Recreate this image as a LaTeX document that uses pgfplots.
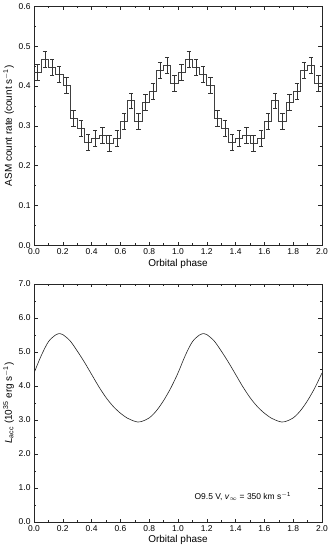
\documentclass[border=0pt]{standalone}
\usepackage{fontspec}
\setmainfont{Liberation Sans}
\usepackage{pgfplots}
\pgfplotsset{compat=1.18}
\begin{document}
\begin{tikzpicture}
\pgfplotsset{
  myaxis/.style={
    scale only axis,
    width=289pt,
    xmin=0, xmax=2,
    xtick={0,0.2,...,2.01},
    minor x tick num=1,
    tick align=inside,
    major tick length=3.5pt,
    minor tick length=2pt,
    axis line style={black!85, line width=0.5pt},
    tick style={black!85, line width=0.5pt},
    /pgf/number format/assume math mode=true,
    /pgf/number format/.cd, fixed, fixed zerofill, precision=1,
    /pgfplots/.cd,
    tick label style={font=\fontsize{8.5}{10}\selectfont},
    label style={font=\fontsize{10}{12}\selectfont},
    xlabel={Orbital phase},
    xlabel style={yshift=3pt},
    ylabel style={yshift=-2pt},
  }
}
\begin{axis}[myaxis,
  at={(0,0)}, anchor=south west,
  height=240pt,
  ymin=0, ymax=0.6,
  ytick={0,0.1,...,0.61},
  minor y tick num=1,
  ylabel={ASM count rate (count s\textsuperscript{$-$1})},
]
\addplot[const plot, black!75, line width=0.6pt] coordinates {
(0.00,0.434)(0.05,0.466)(0.10,0.447)(0.15,0.430)(0.20,0.403)
(0.25,0.320)(0.30,0.293)(0.35,0.260)(0.40,0.270)(0.45,0.277)
(0.50,0.257)(0.55,0.270)(0.60,0.312)(0.65,0.363)(0.70,0.312)
(0.75,0.360)(0.80,0.388)(0.85,0.440)(0.90,0.452)(0.95,0.407)
(1.00,0.434)(1.05,0.466)(1.10,0.447)(1.15,0.430)(1.20,0.403)
(1.25,0.320)(1.30,0.293)(1.35,0.260)(1.40,0.270)(1.45,0.277)
(1.50,0.257)(1.55,0.270)(1.60,0.312)(1.65,0.363)(1.70,0.312)
(1.75,0.360)(1.80,0.388)(1.85,0.440)(1.90,0.452)(1.95,0.407)
(2.00,0.407)
};
\addplot[draw=none, mark=none,
  error bars/.cd, y dir=both, y explicit,
  error mark options={rotate=90, mark size=2.2pt, black!80, line width=0.5pt},
  error bar style={black!80, line width=0.5pt}]
coordinates {
(0.025,0.434) +- (0,0.020)(0.075,0.466) +- (0,0.020)(0.125,0.447) +- (0,0.020)(0.175,0.430) +- (0,0.020)(0.225,0.403) +- (0,0.020)
(0.275,0.320) +- (0,0.020)(0.325,0.293) +- (0,0.020)(0.375,0.260) +- (0,0.020)(0.425,0.270) +- (0,0.020)(0.475,0.277) +- (0,0.020)
(0.525,0.257) +- (0,0.020)(0.575,0.270) +- (0,0.020)(0.625,0.312) +- (0,0.020)(0.675,0.363) +- (0,0.020)(0.725,0.312) +- (0,0.020)
(0.775,0.360) +- (0,0.020)(0.825,0.388) +- (0,0.020)(0.875,0.440) +- (0,0.020)(0.925,0.452) +- (0,0.020)(0.975,0.407) +- (0,0.020)
(1.025,0.434) +- (0,0.020)(1.075,0.466) +- (0,0.020)(1.125,0.447) +- (0,0.020)(1.175,0.430) +- (0,0.020)(1.225,0.403) +- (0,0.020)
(1.275,0.320) +- (0,0.020)(1.325,0.293) +- (0,0.020)(1.375,0.260) +- (0,0.020)(1.425,0.270) +- (0,0.020)(1.475,0.277) +- (0,0.020)
(1.525,0.257) +- (0,0.020)(1.575,0.270) +- (0,0.020)(1.625,0.312) +- (0,0.020)(1.675,0.363) +- (0,0.020)(1.725,0.312) +- (0,0.020)
(1.775,0.360) +- (0,0.020)(1.825,0.388) +- (0,0.020)(1.875,0.440) +- (0,0.020)(1.925,0.452) +- (0,0.020)(1.975,0.407) +- (0,0.020)
};
\end{axis}
\begin{axis}[myaxis,
  at={(0,-277.6pt)}, anchor=south west,
  height=239pt,
  ymin=0, ymax=7,
  ytick={0,1,...,7},
  minor y tick num=1,
  ylabel={\textit{L}\textsubscript{acc} (10\textsuperscript{35} erg s\textsuperscript{$-$1})},
]
\addplot[smooth, black!85, line width=0.6pt] coordinates {
(0.00,4.38)(0.05,4.89)(0.10,5.30)(0.15,5.50)(0.18,5.54)(0.20,5.51)
(0.25,5.33)(0.30,5.03)(0.35,4.70)(0.40,4.34)(0.45,3.98)(0.50,3.66)
(0.55,3.40)(0.60,3.20)(0.65,3.05)(0.70,2.96)(0.72,2.94)(0.75,2.96)
(0.80,3.06)(0.85,3.27)(0.90,3.57)(0.95,3.94)
(1.00,4.38)(1.05,4.89)(1.10,5.30)(1.15,5.50)(1.18,5.54)(1.20,5.51)
(1.25,5.33)(1.30,5.03)(1.35,4.70)(1.40,4.34)(1.45,3.98)(1.50,3.66)
(1.55,3.40)(1.60,3.20)(1.65,3.05)(1.70,2.96)(1.72,2.94)(1.75,2.96)
(1.80,3.06)(1.85,3.27)(1.90,3.57)(1.95,3.94)(2.00,4.38)
};
\node[font=\fontsize{8.5}{10}\selectfont] at (axis cs:1.45,0.74)
  {O9.5 V, \textit{v}\textsubscript{$\infty$} = 350 km s\textsuperscript{$-$1}};
\end{axis}
\end{tikzpicture}
\end{document}
